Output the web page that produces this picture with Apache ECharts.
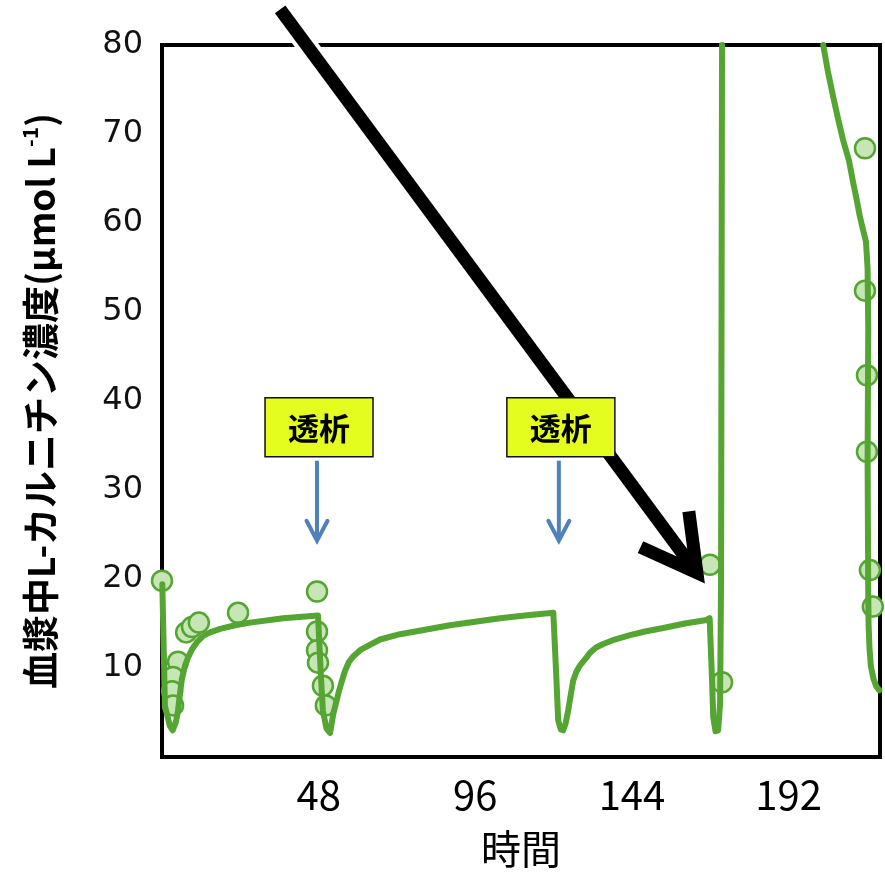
<!DOCTYPE html>
<html>
<head>
<meta charset="utf-8">
<script src="https://cdn.jsdelivr.net/npm/echarts@6/dist/echarts.min.js"></script>
<style>
  html, body { margin: 0; padding: 0; background: #fff; }
  #chart { width: 885px; height: 874px; }
</style>
</head>
<body>
<div id="chart"></div>
<script>
// Simulated plasma L-carnitine curve (time in hours, concentration in µmol/L).
// A null value breaks the line where the curve leaves the top of the plot.
const lineTime = [
  0.1, 0.9, 2.4, 3.3, 4.3, 4.9, 5.5, 6.1, 7.1, 8.0, 9.2, 10.7, 12.6, 14.7, 17.8, 22.4, 27.0, 37.1, 47.8,
  48.2, 48.7, 49.3, 50.4, 51.5, 52.5, 53.3, 54.0, 55.0, 56.1, 57.3, 58.6, 60.7, 62.7, 66.8, 72.9, 80.6, 88.2, 95.9, 103.6, 111.2, 119.9,
  120.7, 121.4, 122.2, 122.9, 123.7, 124.5, 125.3, 126.0, 127.0, 128.1, 129.9, 131.1, 133.0, 135.2, 138.7, 143.4, 148.0, 153.6, 160.2, 166.9,
  167.8, 168.5, 168.9, 169.6, 170.4, 171.0, 171.3, 171.6,
  186.0,
  202.6, 204.0, 205.7, 207.1, 208.7, 210.5, 211.8, 212.8, 213.8, 214.7, 215.7, 216.2, 216.4, 216.2, 216.4, 216.5, 216.8, 217.2, 218.0, 218.9, 219.8
];
const lineConc = [
  19.4, 5.7, 3.5, 3.0, 4.0, 5.2, 7.1, 8.8, 10.3, 11.2, 12.1, 12.9, 13.6, 14.0, 14.4, 14.8, 15.1, 15.6, 15.9,
  16.0, 9.0, 5.2, 3.2, 2.7, 4.9, 6.0, 7.1, 8.4, 9.7, 10.7, 11.3, 12.0, 12.4, 13.2, 13.8, 14.3, 14.8, 15.2, 15.6, 15.9, 16.2,
  10.0, 4.1, 3.1, 3.0, 3.8, 5.3, 7.1, 8.6, 9.6, 10.3, 11.1, 11.7, 12.3, 12.7, 13.2, 13.7, 14.1, 14.5, 15.0, 15.4,
  15.6, 9.0, 4.5, 2.9, 3.0, 6.0, 20.0, 80.0,
  null,
  80.0, 77.1, 74.1, 71.8, 69.3, 67.0, 64.5, 62.7, 60.8, 59.4, 57.9, 54.9, 48.2, 33.4, 18.6, 14.9, 12.1, 10.2, 8.8, 7.9, 7.5
];

// Measured concentrations
const obsTime = [
  0.0, 4.9, 3.4, 3.1, 3.4, 7.4, 9.2, 11.3, 23.3,
  47.5, 47.5, 47.5, 47.8, 49.3, 50.2,
  167.9, 171.6,
  215.4, 215.4, 216.0, 216.0, 216.9, 217.8
];
const obsConc = [
  19.8, 10.7, 9.0, 7.4, 5.8, 14.0, 14.6, 15.1, 16.2,
  18.6, 14.1, 12.0, 10.6, 8.0, 5.8,
  21.6, 8.4,
  68.4, 52.4, 42.9, 34.3, 21.0, 16.9
];

const xTickValues = [48, 96, 144, 192];
const yTickValues = [10, 20, 30, 40, 50, 60, 70, 80];

// Dialysis sessions marked above the curve
const dialysisTimes = [47.5, 121.6];
const dialysisLabel = '透析';
const dialysisArrowTipConc = 24.3;

// Big pointer towards the dose spike: [time, conc] of tail and tip
const pointerTail = [36.2, 84.0];
const pointerTip = [163.9, 20.7];

const GREEN = '#55a532';
const GREEN_FILL = '#c6e6b6';

const chart = echarts.init(document.getElementById('chart'), null, { renderer: 'canvas' });

const lineData = lineTime.map((t, i) => [t, lineConc[i] === null ? '-' : lineConc[i]]);
const obsData = obsTime.map((t, i) => [t, obsConc[i]]);

chart.setOption({
  animation: false,
  backgroundColor: '#fff',
  grid: {
    left: 162, top: 45, width: 718, height: 721,
    show: true, borderColor: '#000', borderWidth: 4, backgroundColor: 'transparent'
  },
  xAxis: {
    type: 'value', min: 0, max: 220, interval: 48,
    name: '時間', nameLocation: 'middle', nameGap: 72,
    nameTextStyle: { fontFamily: '"Noto Sans CJK JP", sans-serif', fontSize: 40, color: '#000' },
    axisLine: { show: false }, axisTick: { show: false }, splitLine: { show: false },
    axisLabel: {
      margin: 18, color: '#000', fontSize: 40, lineHeight: 40,
      fontFamily: '"Liberation Sans Narrow", "Noto Sans CJK JP", sans-serif',
      showMaxLabel: false,
      formatter: v => (xTickValues.indexOf(v) >= 0 ? String(v) : '')
    }
  },
  yAxis: {
    type: 'value', min: 0, max: 80, interval: 10,
    name: '{t|血漿中L-カルニチン濃度(μmol L}{s|-1}{t|)}',
    nameLocation: 'middle', nameRotate: 90, nameGap: 100,
    nameTextStyle: {
      rich: {
        t: { fontFamily: '"Noto Sans CJK JP", sans-serif', fontWeight: 'bold', fontSize: 37, color: '#000', lineHeight: 42 },
        s: { fontFamily: '"Noto Sans CJK JP", sans-serif', fontWeight: 'bold', fontSize: 21, color: '#000', verticalAlign: 'top', lineHeight: 42 }
      }
    },
    axisLine: { show: false }, axisTick: { show: false }, splitLine: { show: false },
    axisLabel: {
      margin: 19, color: '#111', fontSize: 32,
      fontFamily: '"DejaVu Sans", Verdana, sans-serif',
      formatter: v => (yTickValues.indexOf(v) >= 0 ? String(v) : '')
    }
  },
  series: [
    {
      type: 'scatter', data: obsData, z: 2,
      symbol: 'circle', symbolSize: 20,
      itemStyle: { color: GREEN_FILL, borderColor: GREEN, borderWidth: 2.5, opacity: 1 }
    },
    {
      type: 'line', data: lineData, z: 3,
      showSymbol: false, symbol: 'none', smooth: false, connectNulls: false, clip: true,
      lineStyle: { color: GREEN, width: 6, join: 'round', cap: 'round' }
    }
  ]
});

function px(pt) { return chart.convertToPixel({ gridIndex: 0 }, pt); }

const graphics = [];

// Black pointer arrow with a thin white halo
const a0 = px(pointerTail), a1 = px(pointerTip);
let dx = a1[0] - a0[0], dy = a1[1] - a0[1];
const len = Math.hypot(dx, dy);
dx /= len; dy /= len;
const shaftEnd = [a1[0] - dx * 9, a1[1] - dy * 9];
graphics.push({
  type: 'line', z: 20, silent: true,
  shape: { x1: a0[0], y1: a0[1], x2: shaftEnd[0], y2: shaftEnd[1] },
  style: { stroke: '#fff', lineWidth: 21 }
});
graphics.push({
  type: 'line', z: 21, silent: true,
  shape: { x1: a0[0], y1: a0[1], x2: shaftEnd[0], y2: shaftEnd[1] },
  style: { stroke: '#000', lineWidth: 13 }
});
const wingLen = 62, ang = 29 * Math.PI / 180;
function wing(sign) {
  const bx = -dx, by = -dy;
  const c = Math.cos(sign * ang), s = Math.sin(sign * ang);
  return [a1[0] + (bx * c - by * s) * wingLen, a1[1] + (bx * s + by * c) * wingLen];
}
graphics.push({
  type: 'polyline', z: 21, silent: true,
  shape: { points: [wing(1), [a1[0], a1[1]], wing(-1)] },
  style: { stroke: '#000', lineWidth: 13, fill: 'none', lineJoin: 'miter', miterLimit: 10 }
});

// Dialysis labels and blue down arrows
dialysisTimes.forEach(t => {
  const tip = px([t, dialysisArrowTipConc]);
  const bx = tip[0] + 2, boxTop = tip[1] - 143, boxW = 108, boxH = 59;
  graphics.push({
    type: 'rect', z: 30, silent: true,
    shape: { x: bx - boxW / 2, y: boxTop, width: boxW, height: boxH },
    style: { fill: '#e4fd1e', stroke: '#111', lineWidth: 1.5 }
  });
  graphics.push({
    type: 'text', z: 31, silent: true,
    style: {
      text: dialysisLabel, x: bx, y: boxTop + boxH / 2 + 1,
      align: 'center', verticalAlign: 'middle',
      fontSize: 31, fontWeight: 'bold', fontFamily: '"Noto Sans CJK JP", sans-serif', fill: '#000'
    }
  });
  graphics.push({
    type: 'line', z: 30, silent: true,
    shape: { x1: tip[0], y1: tip[1] - 80, x2: tip[0], y2: tip[1] - 2 },
    style: { stroke: '#4f81bd', lineWidth: 4 }
  });
  graphics.push({
    type: 'polyline', z: 30, silent: true,
    shape: { points: [[tip[0] - 10.5, tip[1] - 20], [tip[0], tip[1]], [tip[0] + 10.5, tip[1] - 20]] },
    style: { stroke: '#4f81bd', lineWidth: 4, fill: 'none', lineJoin: 'miter', lineCap: 'round' }
  });
});

chart.setOption({ graphic: graphics });
</script>
</body>
</html>
